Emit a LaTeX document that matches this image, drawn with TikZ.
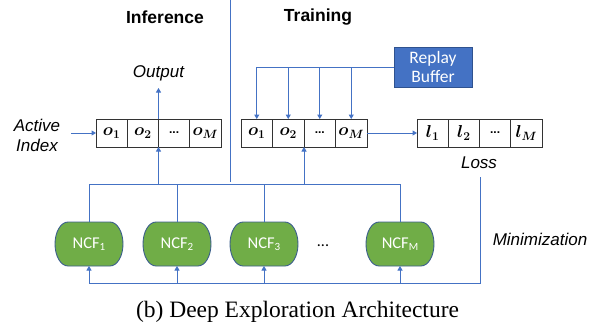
\documentclass[tikz,border=0pt]{standalone}
\usepackage{fontspec}
\setmainfont{Liberation Serif}
\newfontfamily\arialfont{Liberation Sans}
\newfontfamily\calibrifont{Carlito}
\usepackage{bm}
\usetikzlibrary{arrows.meta,backgrounds}
\definecolor{lineblue}{HTML}{4472C4}
\definecolor{rbfill}{HTML}{4472C4}
\definecolor{rbborder}{HTML}{2F528F}
\definecolor{ncfgreen}{HTML}{70AD47}
\definecolor{ncfborder}{HTML}{3B5E8C}
\newcommand{\csub}[1]{\raisebox{-0.3ex}{\fontsize{11}{11}\selectfont #1}}
\newcommand{\celldots}{{\arialfont\bfseries\fontsize{12}{14}\selectfont ...}}
\newcommand{\oM}{{\fontsize{17}{20}\selectfont$\bm{o}_{\bm{M}}$}}
\newcommand{\lM}{$\bm{l}_{\bm{M}}$}
\begin{document}
\begin{tikzpicture}[x=1pt,y=1pt,
  blueline/.style={draw=lineblue, line width=1pt},
  arr/.style={blueline, -{Triangle[width=5pt,length=4.5pt]}},
  cell/.style={draw=black!80, line width=0.9pt, minimum width=31.25pt, minimum height=28pt,
    inner sep=0pt, outer sep=0pt, font=\fontsize{18}{21}\selectfont},
  head/.style={font=\arialfont\bfseries\fontsize{17.5}{20}\selectfont, inner sep=0pt},
  lab/.style={font=\arialfont\itshape\fontsize{17}{20}\selectfont, align=center, inner sep=0pt},
  ncf/.style={minimum width=68pt, minimum height=44pt, inner sep=0pt, outer sep=0pt, text=white,
    font=\calibrifont\fontsize{16.5}{19}\selectfont},
  ncfshape/.style={fill=ncfgreen, draw=ncfborder, line width=0.9pt},
  rbox/.style={fill=rbfill, draw=rbborder, line width=0.9pt, minimum width=78pt, minimum height=40pt,
    inner sep=0pt, text=white, align=center, font=\calibrifont\fontsize{17.5}{20}\selectfont}]
\useasboundingbox (0,0) rectangle (608,333);

% headers
\node[head] (hinf) at (165,316) {Inference};
\node[head] (htrain) at (318,316) {Training};
\coordinate (divtop) at (230,333);
\coordinate (divbot) at (230,151);
\draw[blueline] (divtop) -- (divbot);

% inference box
\node[cell] (i1) at (111.625,200) {$\bm{o}_{\bm{1}}$};
\node[cell] (i2) at (142.875,200) {$\bm{o}_{\bm{2}}$};
\node[cell] (i3) at (174.125,200) {\celldots};
\node[cell] (i4) at (205.375,200) {\oM};

% training box
\node[cell, minimum width=31.5pt] (t1) at (256.75,200) {$\bm{o}_{\bm{1}}$};
\node[cell, minimum width=31.5pt] (t2) at (288.25,200) {$\bm{o}_{\bm{2}}$};
\node[cell, minimum width=31.5pt] (t3) at (319.75,200) {\celldots};
\node[cell, minimum width=31.5pt] (t4) at (351.25,200) {\oM};

% loss box
\node[cell] (l1) at (432.625,200) {$\bm{l}_{\bm{1}}$};
\node[cell] (l2) at (463.875,200) {$\bm{l}_{\bm{2}}$};
\node[cell] (l3) at (495.125,200) {\celldots};
\node[cell] (l4) at (526.375,200) {\lM};
\node[lab] (loss) at (479,170) {Loss};

% labels
\node[lab] (act) at (37,198) {Active\\Index};
\coordinate (actend) at (71,200);
\node[lab] (out) at (158.5,260) {Output};
\coordinate (outtip) at (158.5,245);
\node[lab] (mini) at (540,94) {Minimization};

% replay buffer
\node[rbox] (rb) at (433,266) {Replay\\[-1pt]Buffer};

% NCF nodes
\node[ncf] (n1) at (89,89) {NCF\csub{1}};
\node[ncf] (n2) at (177,89) {NCF\csub{2}};
\node[ncf] (n3) at (264,89) {NCF\csub{3}};
\node[ncf] (nM) at (400,89) {NCF\csub{M}};
\node[font=\calibrifont\fontsize{16}{18}\selectfont] (dots) at (323,87) {...};
\begin{pgfonlayer}{background}
\foreach \n in {n1,n2,n3,nM}{
  \path[ncfshape] ([xshift=13pt]\n.north west) -- ([xshift=-13pt]\n.north east)
    arc[start angle=90,end angle=-90,x radius=13pt,y radius=22pt]
    -- ([xshift=13pt]\n.south west)
    arc[start angle=270,end angle=90,x radius=13pt,y radius=22pt] -- cycle;
}
\end{pgfonlayer}

% connectors
\draw[arr] (actend) -- (i1.west);
\draw[arr] (i2.north east) -- (outtip);
\draw[arr] (t4.east) -- (l1.west);

\draw[arr] (rb.west) -| (t1.north);
\draw[arr] (t2.north |- rb.west) -- (t2.north);
\draw[arr] (t3.north |- rb.west) -- (t3.north);
\draw[arr] (t4.north |- rb.west) -- (t4.north);

\coordinate (bus) at (89,149);
\draw[blueline] (n1.north) -- (n1.north |- bus) -- (nM.north |- bus) -- (nM.north);
\draw[blueline] (n2.north) -- (n2.north |- bus);
\draw[blueline] (n3.north) -- (n3.north |- bus);
\draw[arr] (i2.south east |- bus) -- (i2.south east);
\draw[arr] (t2.south east |- bus) -- (t2.south east);

\coordinate (bb) at (480,50);
\coordinate (lossend) at (480,156);
\draw[blueline] (lossend) -- (bb) -- (n1.south |- bb);
\draw[arr] (n1.south |- bb) -- (n1.south);
\draw[arr] (n2.south |- bb) -- (n2.south);
\draw[arr] (n3.south |- bb) -- (n3.south);
\draw[arr] (nM.south |- bb) -- (nM.south);

% caption
\node[font=\fontsize{23.5}{26}\selectfont, inner sep=0pt] (cap) at (297.5,21) {(b) Deep Exploration Architecture};
\end{tikzpicture}
\end{document}
